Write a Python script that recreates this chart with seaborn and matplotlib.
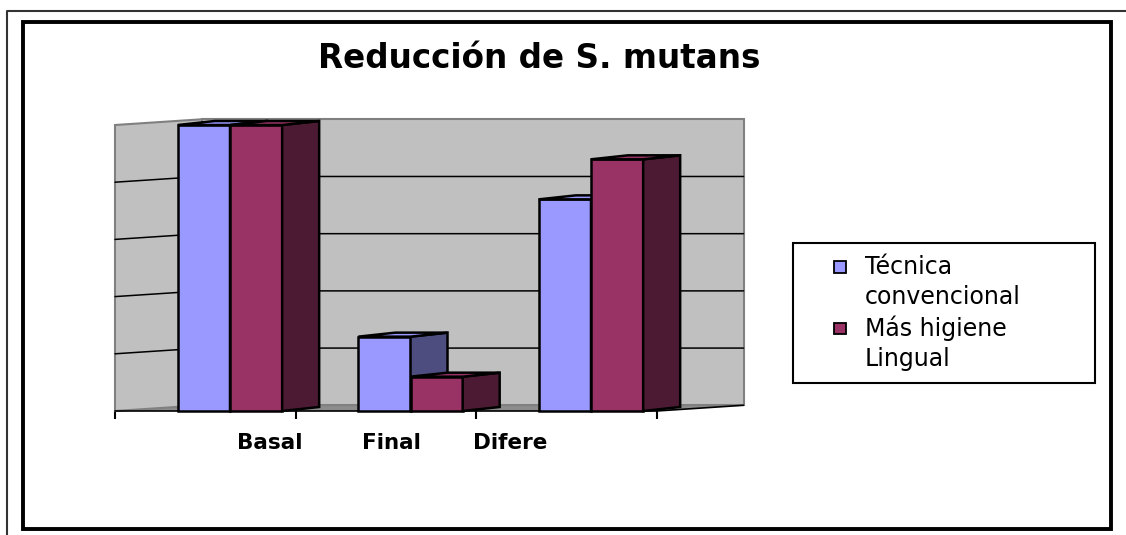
import matplotlib
matplotlib.use("Agg")
import matplotlib.pyplot as plt
import seaborn as sns
import pandas as pd
from matplotlib.patches import Polygon, Rectangle, Patch
from matplotlib.lines import Line2D
from matplotlib.legend_handler import HandlerPatch

# ---------------- data ----------------
categories = ["Basal", "Final", "Difere"]
series_names = ["Técnica\nconvencional", "Más higiene\nLingual"]
tecnica = [5.0, 1.3, 3.7]
higiene = [5.0, 0.6, 4.4]
gridline_values = [1, 2, 3, 4]
title = "Reducción de S. mutans"

# ---------------- style ----------------
front_colors = ["#9999FF", "#993366"]
side_colors = ["#4D4D80", "#4D1A33"]
wall_color = "#C0C0C0"
wall_edge = "#808080"
floor_color = "#8C8C8C"

W, H = 1126, 535
sns.set_theme(style="white")
plt.rcParams['font.family'] = ['DejaVu Sans']
plt.rcParams['text.color'] = 'black'
plt.rcParams['xtick.labelcolor'] = 'black'

fig = plt.figure(figsize=(W / 100, H / 100), dpi=100)


def px(x0, y0, x1, y1):
    return [x0 / W, 1 - y1 / H, (x1 - x0) / W, (y1 - y0) / H]


ax = fig.add_axes(px(115, 110, 745, 411))

df = pd.DataFrame({
    "cat": categories * 2,
    "val": tecnica + higiene,
    "series": [series_names[0]] * 3 + [series_names[1]] * 3,
})

sns.barplot(data=df, x="cat", y="val", hue="series", hue_order=series_names,
            order=categories, palette=front_colors, saturation=1, width=0.578,
            edgecolor="black", linewidth=1.8, legend=False, ax=ax, errorbar=None)
bars = list(ax.patches)

# geometry (data units)
unit_x = 180.5
unit_y = 57.2
x_left = (115 - 230) / unit_x
x_right = (745 - 230) / unit_x
y_top = (411 - 110) / unit_y
off = -0.5 - x_left
wall_dx, wall_dy = 87 / unit_x, 0.1
bar_dx, bar_dy = 37 / unit_x, 0.07
ymax_wall = 5.0

fl = -0.5 - off
fr = len(categories) - 0.5 - off
bl, br = fl + wall_dx, fr + wall_dx

ax.set_xlim(x_left, x_right)
ax.set_ylim(0, y_top)

# floor
ax.add_patch(Polygon([(fl, 0), (fr, 0), (br, wall_dy), (bl, wall_dy)],
                     closed=True, facecolor=floor_color, edgecolor="none",
                     zorder=0.5, clip_on=False))
# left wall
ax.add_patch(Polygon([(fl, 0), (fl, ymax_wall), (bl, ymax_wall + wall_dy), (bl, wall_dy)],
                     closed=True, facecolor=wall_color, edgecolor=wall_edge, lw=1.5,
                     zorder=0.6, clip_on=False))
# back wall
ax.add_patch(Polygon([(bl, wall_dy), (bl, ymax_wall + wall_dy), (br, ymax_wall + wall_dy), (br, wall_dy)],
                     closed=True, facecolor=wall_color, edgecolor=wall_edge, lw=1.5,
                     zorder=0.6, clip_on=False))
# gridlines
for g in gridline_values:
    ax.add_line(Line2D([fl, bl, br], [g, g + wall_dy, g + wall_dy], color="black",
                       lw=1.1, zorder=0.8, clip_on=False))
# front floor edges
ax.add_line(Line2D([fl, fr, br], [0, 0, wall_dy], color="black", lw=1.2,
                   zorder=0.9, clip_on=False))

# 3D bars: sides and tops
ordered = sorted(bars, key=lambda b: b.get_x())
for rank, b in enumerate(ordered):
    idx = bars.index(b)
    hue = idx // len(categories)
    x0, w, h = b.get_x(), b.get_width(), b.get_height()
    z = 2 + rank
    b.set_zorder(z)
    b.set_joinstyle("miter")
    side = Polygon([(x0 + w, 0), (x0 + w, h), (x0 + w + bar_dx, h + bar_dy), (x0 + w + bar_dx, bar_dy)],
                   closed=True, facecolor=side_colors[hue], edgecolor="black", lw=1.8,
                   joinstyle="miter", zorder=z, clip_on=False)
    top = Polygon([(x0, h), (x0 + w, h), (x0 + w + bar_dx, h + bar_dy), (x0 + bar_dx, h + bar_dy)],
                  closed=True, facecolor=front_colors[hue], edgecolor="black", lw=1.8,
                  joinstyle="miter", zorder=z, clip_on=False)
    ax.add_patch(side)
    ax.add_patch(top)
    b.set_clip_on(False)

# ticks & labels
label_px = [270, 391, 510]
ax.set_xticks([(p - 230) / unit_x for p in label_px])
ax.set_xticklabels(categories, fontsize=15.5, fontweight="bold", color="black")
ax.set_xticks([fl + i for i in range(len(categories) + 1)], minor=True)
ax.tick_params(axis="x", which="major", length=0, pad=16, bottom=False)
ax.tick_params(axis="x", which="minor", length=6, width=1.5, color="black",
               direction="out", bottom=True)
ax.set_yticks([])
ax.set_xlabel("")
ax.set_ylabel("")
for s in ax.spines.values():
    s.set_visible(False)
ax.patch.set_visible(False)

# title
fig.text(539 / W, 1 - 58.5 / H, title, ha="center", va="center", fontsize=23.5,
         fontweight="bold", color="black")


# legend
def top_square(legend, orig_handle, xdescent, ydescent, width, height, fontsize):
    sq = 0.5 * fontsize
    return Rectangle((-xdescent + width - sq, -ydescent + height / 2 - sq / 2 + 0.67 * fontsize),
                     sq, sq)


handles = [Patch(facecolor=c, edgecolor="black", lw=1.3) for c in front_colors]
leg = fig.legend(handles, series_names, loc="upper left",
                 bbox_to_anchor=(793 / W, 1 - 385 / H, 302 / W, 142 / H),
                 bbox_transform=fig.transFigure, mode="expand",
                 fontsize=17, handlelength=1.75, handleheight=0.5, handletextpad=0.8,
                 borderpad=0.5, borderaxespad=0, labelspacing=0.25, fancybox=False,
                 framealpha=1, edgecolor="black",
                 handler_map={Patch: HandlerPatch(patch_func=top_square)})
leg.get_frame().set_linewidth(1.5)
for t in leg.get_texts():
    t.set_linespacing(1.34)
    t.set_color("black")

# outer frames
fig.add_artist(Line2D([7 / W, 7 / W, 1], [0, 1 - 11 / H, 1 - 11 / H], color="#333333",
                      lw=1.5, transform=fig.transFigure))
fig.add_artist(Rectangle((23 / W, 1 - 529 / H), (1111 - 23) / W, (529 - 22) / H, fill=False,
                         ec="black", lw=2.8, transform=fig.transFigure))

fig.savefig("out.png", dpi=100)
